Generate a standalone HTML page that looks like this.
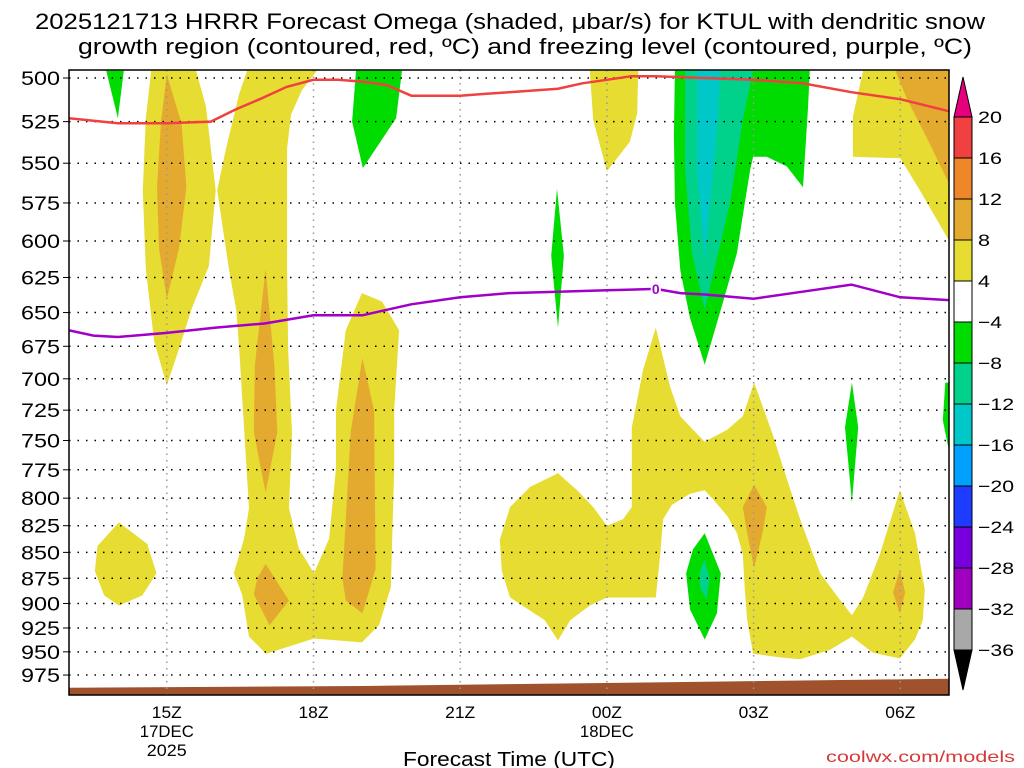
<!DOCTYPE html>
<html><head><meta charset="utf-8"><style>
html,body{margin:0;padding:0;background:#fff;}
svg{display:block;font-family:"Liberation Sans",sans-serif;}
</style></head><body>
<svg id="chart" width="1024" height="768" viewBox="0 0 1024 768" xmlns="http://www.w3.org/2000/svg">
<defs><clipPath id="pc"><rect x="69" y="70" width="880" height="625"/></clipPath></defs>
<g font-size="22" fill="#000">
<text x="35" y="29" textLength="950" lengthAdjust="spacingAndGlyphs">2025121713 HRRR Forecast Omega (shaded, μbar/s) for KTUL with dendritic snow</text>
<text x="78" y="54" textLength="894" lengthAdjust="spacingAndGlyphs">growth region (contoured, red, ºC) and freezing level (contoured, purple, ºC)</text>
</g>
<g id="shade" clip-path="url(#pc)"></g>
<g id="grid"></g>
<g id="lines" clip-path="url(#pc)"></g>
<rect x="69" y="70" width="880" height="625" fill="none" stroke="#000" stroke-width="1.5"/>
<g id="yaxis" font-size="19"></g>
<g id="xaxis" font-size="17"></g>
<text x="403" y="766" font-size="20" textLength="212" lengthAdjust="spacingAndGlyphs">Forecast Time (UTC)</text>
<text x="826" y="762" font-size="16" textLength="189" lengthAdjust="spacingAndGlyphs" fill="#d43a3a">coolwx.com/models</text>
<g id="cbar" font-size="17"></g>
</svg>
<script>
const NS="http://www.w3.org/2000/svg";
// axis data
const yTicks=[500,525,550,575,600,625,650,675,700,725,750,775,800,825,850,875,900,925,950,975];
const xTickHours=[15,18,21,24,27,30];
const xTickLabels=["15Z","18Z","21Z","00Z","03Z","06Z"];
const cbLevels=[20,16,12,8,4,-4,-8,-12,-16,-20,-24,-28,-32,-36];
const cbColors=["#f04040","#f0862a","#e4aa30","#e6dc32","#ffffff","#00dc00","#00d28c","#00c8c8","#00a0ff","#1e3cff","#7800dc","#a000c0","#a8a8a8"];
// red contour (dendritic growth region)
const redHours=[13,14,15,15.9,16.4,16.9,17.45,18,18.5,19,19.5,20,20.5,21,21.5,22,23,23.5,24,24.5,25,26,27,28,29,30,31];
const redP=[523,526,526,525,518,512,505,501,501,502,504,510,510,510,509,508,506,503,501,499,499,500,501,503,508,512,519];
// purple contour (freezing level)
const purHours=[13,13.5,14,15,16,17,18,18.5,19,20,21,22,23,24,25,25.5,26,27,28,29,30,31];
const purP=[663,667,668,665,661,658,652,652,652,644,639,636,635,634,633,636,637,640,635,630,639,641];
// ground surface
const groundHours=[13,16,19,22,25,28,31];
const groundP=[989,988,987,985,983,981,979];
// shaded regions
const Y="#e6dc32",O="#e4aa30",G="#00dc00",T="#00d28c",C="#00c8c8";
const regionColors=[Y,O,Y,O,O,O,Y,G,G,T,C,Y,Y,O,G,Y,O,O,G,T,G,G];
const regionPts=[
[[14.68,496],[15.6,496],[15.8,516],[16.0,567],[15.86,617],[15.5,648],[15.25,677],[15.0,705],[14.74,671],[14.57,619],[14.51,567],[14.57,523]],
[[15.0,498],[15.3,526],[15.4,565],[15.25,605],[15.0,640],[14.84,605],[14.8,565],[14.88,526]],
[[16.64,496],[18.07,496],[17.76,507],[17.54,521],[17.46,541],[17.46,619],[17.48,677],[17.56,743],[17.5,809],[17.7,846],[18.01,870],[18.32,837],[18.46,774],[18.46,725],[18.66,663],[18.99,636],[19.4,642],[19.75,663],[19.65,725],[19.65,774],[19.58,884],[19.34,922],[18.99,940],[18.01,936],[17.03,952],[16.68,934],[16.54,891],[16.37,870],[16.58,837],[16.68,809],[16.48,677],[16.42,648],[16.27,619],[16.03,567],[16.21,541],[16.48,509]],
[[17.02,619],[17.2,690],[17.26,743],[17.02,795],[16.78,743],[16.8,690]],
[[17.02,861],[17.5,897],[17.1,922],[16.78,891],[16.85,875]],
[[19.0,684],[19.24,725],[19.27,866],[19.0,910],[18.66,897],[18.59,875],[18.76,743]],
[[14.02,822],[14.6,842],[14.79,870],[14.5,892],[14.02,902],[13.72,892],[13.53,868],[13.58,844]],
[[13.76,496],[14.12,496],[14.0,523]],
[[18.87,496],[19.81,496],[19.69,523],[19.01,553],[18.79,525]],
[[25.6,496],[26.99,496],[26.78,524],[26.52,575],[26.0,648],[25.74,608],[25.6,554]],
[[25.84,496],[26.31,496],[26.27,524],[26.0,612],[25.84,554]],
[[23.65,496],[24.64,496],[24.62,520],[24.47,537],[24.0,555],[23.72,524]],
[[29.24,496],[29.03,522],[29.03,546],[30.0,547],[30.4,567],[31,600],[31,496]],
[[29.9,496],[31,496],[31,563],[30.6,538],[30.14,512]],
[[22.98,566],[23.12,610],[23.0,661],[22.86,610]],
[[25.0,661],[25.29,706],[25.5,730],[25.76,741],[26.0,751],[26.46,741],[26.78,730],[27.01,703],[27.4,746],[27.58,770],[27.81,800],[27.95,819],[28.36,870],[28.73,894],[29.01,912],[29.24,894],[29.58,852],[29.99,793],[30.3,832],[30.5,886],[30.46,917],[30.3,937],[29.99,957],[29.44,951],[29.01,934],[28.56,948],[27.95,958],[27.54,956],[26.99,952],[26.87,917],[26.82,886],[26.78,852],[26.66,832],[26.46,816],[26.17,801],[26.0,793],[25.7,796],[25.33,806],[25.15,819],[25.09,852],[25.0,894],[24.0,894],[23.65,902],[23.25,917],[23.0,938],[22.73,917],[22.02,894],[21.85,868],[21.81,838],[22.02,808],[22.43,790],[23.0,778],[23.39,793],[23.72,808],[24.0,825],[24.33,819],[24.51,808],[24.51,739],[24.74,693]],
[[27.01,788],[27.27,808],[27.19,830],[27.01,865],[26.87,832],[26.78,808]],
[[29.99,867],[30.1,889],[29.99,910],[29.85,889]],
[[26.0,832],[26.33,870],[26.25,910],[26.0,937],[25.7,906],[25.62,870],[25.76,847]],
[[26.0,857],[26.1,875],[26.04,896],[25.9,884],[25.9,868]],
[[29.01,703],[29.14,739],[29.01,804],[28.87,739]],
[[30.92,703],[31.05,703],[31.05,770],[30.87,733]]
];
const greenBig=[[25.39,496],[28.15,496],[28.11,518],[28.01,565],[27.68,552],[27.27,546],[26.99,546],[26.93,554],[26.82,575],[26.66,608],[26.37,643],[26.0,689],[25.7,654],[25.5,620],[25.39,575],[25.37,533]];

const X=h=>69+(h-13)*48.9;
const Yp=p=>78+894*Math.log(p/500);
function el(tag,attrs,parent){const e=document.createElementNS(NS,tag);for(const k in attrs)e.setAttribute(k,attrs[k]);parent.appendChild(e);return e;}
const shade=document.getElementById('shade');
function poly(pts,color){
  const p=el('polygon',{points:pts.map(q=>X(q[0]).toFixed(1)+','+Yp(q[1]).toFixed(1)).join(' '),fill:color},shade);
  
  
}
regionPts.forEach((pts,i)=>{ if(i===9) poly(greenBig,G); poly(pts,regionColors[i]); });
{
  const pts=groundHours.map((h,i)=>[X(h),Yp(groundP[i])]);
  let d='M'+pts[0][0]+','+pts[0][1]; pts.slice(1).forEach(q=>d+=' L'+q[0]+','+q[1]);
  d+=' L949,695 L69,695 Z';
  const g=el('path',{d:d,fill:'#a0522d'},shade);
  
  
}
const grid=document.getElementById('grid');
yTicks.forEach(p=>{
  const l=el('line',{x1:69,x2:949,y1:Yp(p),y2:Yp(p),stroke:'#000','stroke-width':1.5,'stroke-dasharray':'1.5 7'},grid);
  
  
});
xTickHours.forEach(h=>{
  const l=el('line',{x1:X(h),x2:X(h),y1:70,y2:695,stroke:'#999','stroke-width':1.5,'stroke-dasharray':'1.5 5'},grid);
  
  
});
const lines=document.getElementById('lines');
function pl(hs,ps,color,name){
  const l=el('polyline',{points:hs.map((h,i)=>X(h).toFixed(1)+','+Yp(ps[i]).toFixed(1)).join(' '),fill:'none',stroke:color,'stroke-width':2.5},lines);
  
  
}
pl(redHours,redP,'#f04040','dendritic-growth-contour');
pl(purHours,purP,'#a000c8','freezing-level-contour');
{
  const bg=el('rect',{x:X(25)-5,y:Yp(633)-9,width:10,height:16,fill:'#fff'},lines);
  
  
  const t=el('text',{x:X(25),y:Yp(633)+5,'font-size':14,'font-weight':'bold','text-anchor':'middle',fill:'#a000c8'},lines);
  t.textContent='0';
  
  
}
const ya=document.getElementById('yaxis');
yTicks.forEach(p=>{
  const t=el('text',{x:21,y:Yp(p)+7,textLength:39,lengthAdjust:'spacingAndGlyphs'},ya);
  t.textContent=p;
  
  
  const k=el('line',{x1:63,x2:69,y1:Yp(p),y2:Yp(p),stroke:'#000'},ya);
  
  
});
const xa=document.getElementById('xaxis');
xTickHours.forEach((h,i)=>{
  const t=el('text',{x:X(h)-15,y:718,textLength:30,lengthAdjust:'spacingAndGlyphs'},xa);
  t.textContent=xTickLabels[i];
  
  
});
[[15,'17DEC',737,54],[15,'2025',756,40],[24,'18DEC',737,54]].forEach(a=>{
  const t=el('text',{x:X(a[0])-a[3]/2,y:a[2],textLength:a[3],lengthAdjust:'spacingAndGlyphs'},xa);
  t.textContent=a[1];
  
  
});
const cb=document.getElementById('cbar');
const cbTop=117,cbStep=41,cx=954,cw=18;
{
  const t=el('polygon',{points:`${cx},${cbTop} ${cx+cw},${cbTop} ${cx+cw/2},${cbTop-40}`,fill:'#e6007e',stroke:'#000'},cb);
  
  
}
cbColors.forEach((c,i)=>{
  const r=el('rect',{x:cx,y:cbTop+i*cbStep,width:cw,height:cbStep,fill:c,stroke:'#000'},cb);
  
  
});
{
  const yb=cbTop+cbColors.length*cbStep;
  const t=el('polygon',{points:`${cx},${yb} ${cx+cw},${yb} ${cx+cw/2},${yb+40}`,fill:'#000',stroke:'#000'},cb);
  
  
}
cbLevels.forEach((v,i)=>{
  const s=(v<0?'\u2212'+(-v):String(v));
  const t=el('text',{x:978,y:cbTop+i*cbStep+6,textLength:s.length*12,lengthAdjust:'spacingAndGlyphs'},cb);
  t.textContent=s;
  
  
});
</script>
</body></html>
